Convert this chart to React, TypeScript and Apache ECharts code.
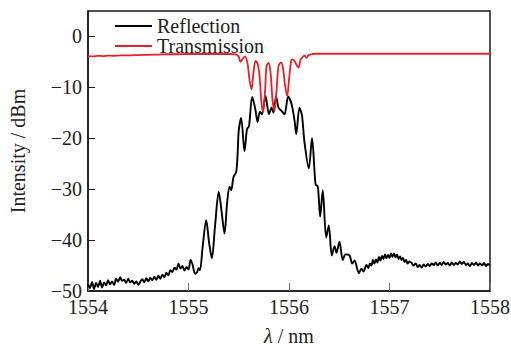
import React, { useEffect, useRef } from "react";
import * as echarts from "echarts";

const seriesNames = ["Reflection", "Transmission"];
const xTicks = [1554, 1555, 1556, 1557, 1558];
const yTicks = [-50, -40, -30, -20, -10, 0];

const reflection: [number, number][] = [
  [1554.0, -48.6], [1554.02, -49.4], [1554.04, -48.2], [1554.06, -49.6], [1554.08, -48.4],
  [1554.1, -49.2], [1554.12, -48.0], [1554.14, -49.3], [1554.16, -48.3], [1554.18, -48.9],
  [1554.2, -47.9], [1554.22, -48.7], [1554.24, -48.1], [1554.26, -48.8], [1554.28, -47.6],
  [1554.3, -48.2], [1554.32, -47.3], [1554.34, -48.0], [1554.36, -47.8], [1554.38, -48.4],
  [1554.4, -47.6], [1554.42, -48.3], [1554.44, -48.0], [1554.46, -48.6], [1554.48, -48.1],
  [1554.5, -48.8], [1554.52, -48.2], [1554.54, -47.7], [1554.56, -48.3], [1554.58, -47.5],
  [1554.6, -48.1], [1554.62, -47.4], [1554.64, -47.9], [1554.66, -47.2], [1554.68, -47.8],
  [1554.7, -47.0], [1554.72, -47.6], [1554.74, -46.8], [1554.76, -47.3], [1554.78, -46.4],
  [1554.8, -46.9], [1554.82, -45.9], [1554.84, -46.3], [1554.86, -45.4], [1554.88, -45.8],
  [1554.9, -44.6], [1554.92, -45.6], [1554.94, -45.1], [1554.96, -46.0], [1554.98, -45.3],
  [1555.0, -45.8], [1555.02, -43.9], [1555.04, -44.8], [1555.065, -46.6], [1555.085, -46.3],
  [1555.1, -45.5], [1555.114, -45.9], [1555.14, -41.5], [1555.176, -36.1], [1555.205, -40.5],
  [1555.232, -43.6], [1555.265, -37.0], [1555.301, -30.5], [1555.33, -34.5], [1555.358, -38.7],
  [1555.385, -32.5], [1555.408, -29.5], [1555.425, -30.2], [1555.448, -27.6], [1555.475, -26.6],
  [1555.49, -22.5], [1555.5, -18.5], [1555.524, -16.0], [1555.557, -22.5], [1555.582, -18.2],
  [1555.602, -17.6], [1555.634, -11.9], [1555.667, -14.5], [1555.687, -16.8], [1555.711, -14.8],
  [1555.731, -15.3], [1555.766, -11.7], [1555.801, -15.3], [1555.826, -14.0], [1555.846, -15.0],
  [1555.871, -11.8], [1555.896, -14.0], [1555.925, -14.6], [1555.955, -15.3], [1555.992, -11.8],
  [1556.025, -13.2], [1556.055, -16.5], [1556.072, -19.2], [1556.104, -14.0], [1556.129, -15.5],
  [1556.154, -20.8], [1556.197, -25.9], [1556.229, -20.0], [1556.264, -29.0], [1556.287, -29.5],
  [1556.31, -35.4], [1556.336, -30.2], [1556.37, -39.5], [1556.396, -37.1], [1556.426, -43.0],
  [1556.453, -41.2], [1556.473, -42.5], [1556.502, -40.3], [1556.535, -43.9], [1556.562, -42.8],
  [1556.602, -43.0], [1556.629, -44.6], [1556.652, -44.0], [1556.695, -46.5], [1556.721, -45.6],
  [1556.741, -46.2], [1556.771, -44.9], [1556.79, -45.5], [1556.805, -44.6], [1556.82, -45.0],
  [1556.835, -43.9], [1556.85, -44.6], [1556.865, -43.8], [1556.88, -44.4], [1556.895, -43.3],
  [1556.91, -44.0], [1556.925, -43.1], [1556.94, -43.7], [1556.955, -42.8], [1556.97, -43.6],
  [1556.985, -42.9], [1557.0, -43.5], [1557.015, -42.6], [1557.03, -43.3], [1557.045, -42.6],
  [1557.06, -43.4], [1557.075, -42.8], [1557.09, -43.7], [1557.105, -43.2], [1557.12, -43.9],
  [1557.135, -43.5], [1557.15, -44.3], [1557.165, -43.9], [1557.18, -44.6], [1557.2, -44.2],
  [1557.22, -44.5], [1557.24, -45.0], [1557.26, -44.6], [1557.28, -45.3], [1557.3, -44.9],
  [1557.32, -45.4], [1557.34, -44.8], [1557.36, -45.2], [1557.38, -44.7], [1557.4, -45.1],
  [1557.42, -44.6], [1557.44, -44.9], [1557.46, -44.4], [1557.48, -45.0], [1557.5, -44.5],
  [1557.52, -44.9], [1557.54, -44.3], [1557.56, -44.8], [1557.58, -44.5], [1557.6, -45.0],
  [1557.62, -44.4], [1557.64, -44.9], [1557.66, -44.5], [1557.68, -44.8], [1557.7, -44.2],
  [1557.72, -44.7], [1557.74, -44.3], [1557.76, -44.9], [1557.78, -44.6], [1557.8, -45.1],
  [1557.82, -44.5], [1557.84, -44.9], [1557.86, -44.4], [1557.88, -45.0], [1557.9, -44.6],
  [1557.92, -45.0], [1557.94, -44.5], [1557.96, -45.1], [1557.98, -44.7], [1558.0, -45.0],
];

const transmission: [number, number][] = [
  [1554.0, -3.85], [1554.05, -3.9], [1554.1, -3.8], [1554.15, -3.85], [1554.2, -3.75],
  [1554.25, -3.8], [1554.3, -3.75], [1554.35, -3.7], [1554.4, -3.72], [1554.5, -3.65],
  [1554.6, -3.6], [1554.7, -3.55], [1554.8, -3.5], [1554.9, -3.5], [1555.0, -3.45],
  [1555.1, -3.45], [1555.2, -3.45], [1555.3, -3.45], [1555.4, -3.45], [1555.468, -3.5],
  [1555.498, -3.9], [1555.517, -5.0], [1555.537, -4.4], [1555.562, -3.9], [1555.587, -5.3],
  [1555.607, -8.5], [1555.627, -10.4], [1555.647, -7.0], [1555.667, -4.8], [1555.687, -5.3],
  [1555.706, -7.5], [1555.726, -13.0], [1555.741, -14.8], [1555.761, -11.0], [1555.776, -5.8],
  [1555.796, -5.2], [1555.816, -7.0], [1555.836, -12.5], [1555.856, -14.6], [1555.876, -10.5],
  [1555.896, -5.8], [1555.92, -5.1], [1555.94, -6.2], [1555.96, -9.5], [1555.982, -11.7],
  [1556.0, -8.5], [1556.02, -5.0], [1556.035, -4.5], [1556.055, -4.8], [1556.075, -5.6],
  [1556.095, -6.1], [1556.114, -4.6], [1556.134, -4.1], [1556.154, -3.7], [1556.174, -4.2],
  [1556.194, -3.7], [1556.224, -3.5], [1556.254, -3.4], [1556.5, -3.4], [1557.0, -3.4],
  [1557.5, -3.4], [1558.0, -3.4],
];

const FONT = "Liberation Serif";
const AXIS_COLOR = "#1a1a1a";

export default function App() {
  const ref = useRef<HTMLDivElement>(null);
  useEffect(() => {
    if (!ref.current) return;
    const chart = echarts.init(ref.current, null, { renderer: "svg" });
    const fmt = (v: number) => (v < 0 ? "\u2212" + Math.abs(v) : String(v));
    chart.setOption({
      animation: false,
      backgroundColor: "#fff",
      textStyle: { fontFamily: FONT },
      grid: {
        left: 88,
        right: 21,
        top: 11,
        bottom: 57,
        show: true,
        borderColor: AXIS_COLOR,
        borderWidth: 1.5,
        containLabel: false,
        outerBoundsMode: "none",
      },
      legend: {
        data: seriesNames,
        orient: "vertical",
        left: 115,
        top: 16,
        padding: 0,
        icon: "rect",
        itemWidth: 37,
        itemHeight: 2,
        itemGap: 0,
        textStyle: { fontFamily: FONT, fontSize: 20, color: "#222", lineHeight: 18 },
      },
      xAxis: {
        type: "value",
        min: xTicks[0],
        max: xTicks[xTicks.length - 1],
        interval: 1,
        position: "bottom",
        name: "{i|\u03bb} / nm",
        nameLocation: "middle",
        nameGap: 35,
        nameTextStyle: {
          fontFamily: FONT,
          fontSize: 20,
          color: "#222",
          rich: { i: { fontFamily: FONT, fontSize: 20, fontStyle: "italic", color: "#222" } },
        },
        axisLine: { onZero: false, lineStyle: { color: AXIS_COLOR, width: 1.5 } },
        axisTick: { show: true, inside: true, length: 8, lineStyle: { color: "#777", width: 1 } },
        minorTick: { show: false },
        axisLabel: {
          fontFamily: FONT,
          fontSize: 20,
          lineHeight: 16,
          color: "#222",
          margin: 8,
          formatter: (v: number) => String(v),
        },
        splitLine: { show: false },
      },
      yAxis: {
        type: "value",
        min: yTicks[0],
        max: 5,
        interval: 10,
        position: "left",
        name: "Intensity / dBm",
        nameLocation: "middle",
        nameGap: 60,
        nameTextStyle: { fontFamily: FONT, fontSize: 20, color: "#222" },
        axisLine: { onZero: false, lineStyle: { color: AXIS_COLOR, width: 1.5 } },
        axisTick: { inside: true, length: 7, lineStyle: { color: AXIS_COLOR, width: 1 } },
        minorTick: { show: false },
        axisLabel: {
          fontFamily: FONT,
          fontSize: 20,
          lineHeight: 16,
          color: "#222",
          margin: 6,
          showMaxLabel: false,
          formatter: (v: number) => (yTicks.includes(v) ? fmt(v) : ""),
        },
        splitLine: { show: false },
      },
      series: [
        {
          name: seriesNames[0],
          type: "line",
          data: reflection,
          symbol: "none",
          smooth: 0.3,
          lineStyle: { color: "#000", width: 1.9 },
          itemStyle: { color: "#000" },
        },
        {
          name: seriesNames[1],
          type: "line",
          data: transmission,
          symbol: "none",
          smooth: 0.3,
          lineStyle: { color: "#e8202a", width: 1.8 },
          itemStyle: { color: "#e8202a" },
        },
      ],
    });
    return () => chart.dispose();
  }, []);
  return (
    <div
      ref={ref}
      style={{ position: "fixed", left: 0, top: 0, width: 511, height: 348 }}
    />
  );
}
